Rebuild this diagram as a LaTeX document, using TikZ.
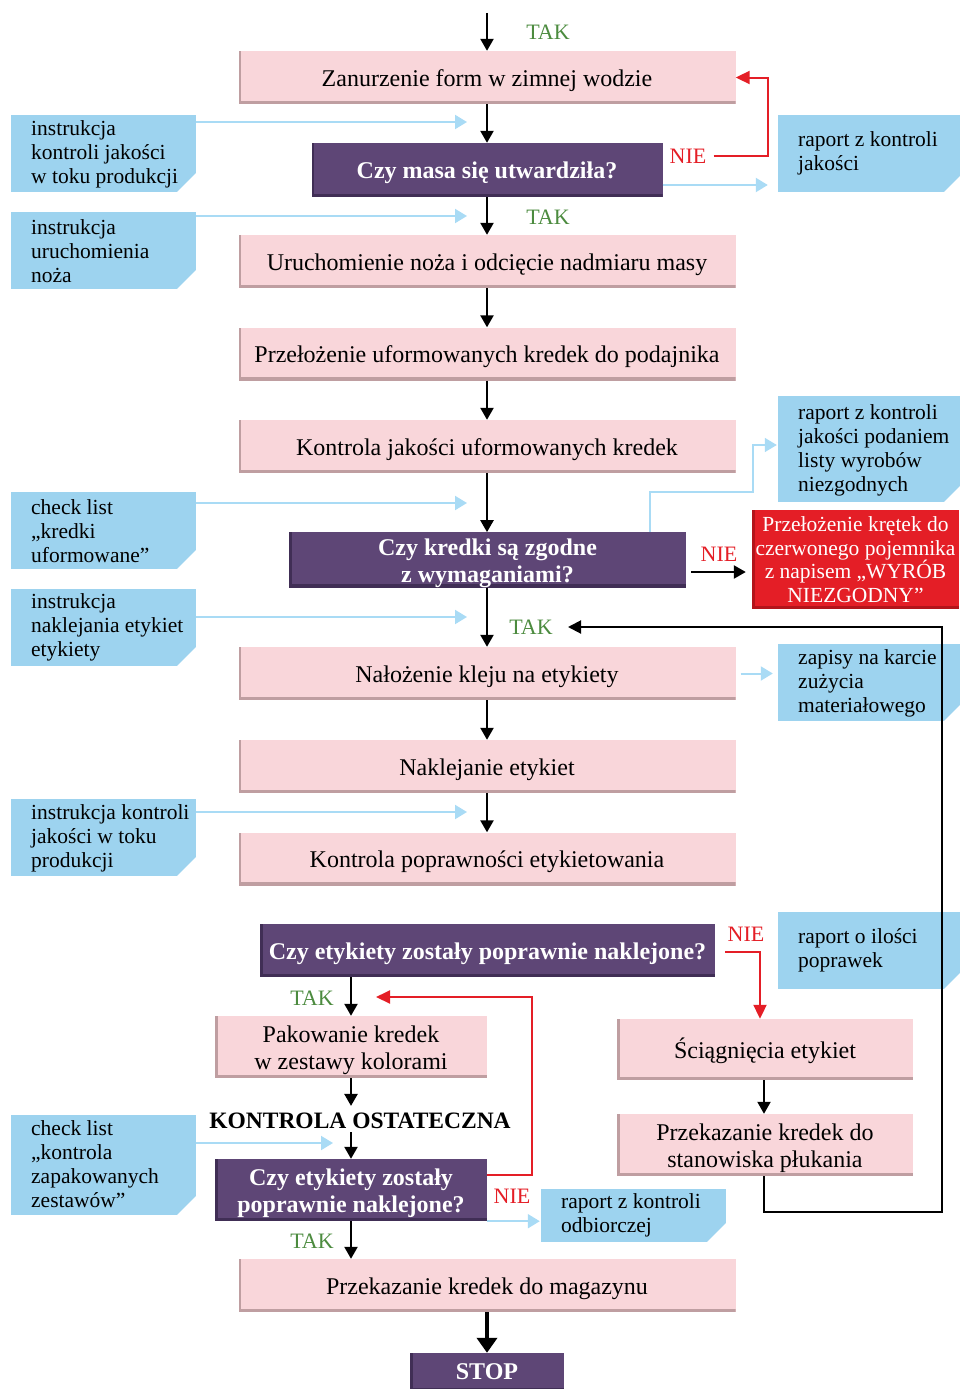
\documentclass[tikz,border=0pt]{standalone}
\usepackage{fontspec}
\setmainfont{Liberation Serif}
\usetikzlibrary{arrows.meta,calc}
\definecolor{pinkfill}{HTML}{F9D6DA}
\definecolor{pinkedge}{HTML}{BF9EA1}
\definecolor{purplefill}{HTML}{5E4676}
\definecolor{purpleedge}{HTML}{402E55}
\definecolor{docblue}{HTML}{9DD3EF}
\definecolor{linkblue}{HTML}{A9DBF5}
\definecolor{takgreen}{HTML}{4C8B3F}
\definecolor{nieRed}{HTML}{E41E26}
\definecolor{rededge}{HTML}{B3141A}

% strut that lowers the first line of a box text a little
\newcommand{\topstrut}{\rule{0pt}{23pt}}

\tikzset{
  bevel/.style={path picture={
    \fill[#1] (path picture bounding box.south west) rectangle ([yshift=3.5pt]path picture bounding box.south east);
    \fill[#1] (path picture bounding box.south west) rectangle ([xshift=2.5pt]path picture bounding box.north west);}},
  proc/.style={fill=pinkfill, bevel=pinkedge, inner sep=0pt, minimum height=53pt,
    font=\fontsize{24}{27}\selectfont, align=center, text=black},
  ask/.style={fill=purplefill, bevel=purpleedge, inner sep=0pt, minimum height=54pt,
    font=\bfseries\fontsize{24}{27}\selectfont, align=center, text=white},
  stopbox/.style={fill=purplefill, bevel=purpleedge, inner sep=0pt,
    font=\bfseries\fontsize{24}{27}\selectfont, text=white},
  reject/.style={fill=nieRed, bevel=rededge, inner sep=0pt,
    font=\fontsize{21.5}{23.7}\selectfont, align=center, text=white},
  doc/.style={fill=docblue, inner sep=0pt, minimum width=185pt, minimum height=77pt,
    path picture={\fill[white] (path picture bounding box.south east)
      -- ([yshift=19pt]path picture bounding box.south east)
      -- ([xshift=-19pt]path picture bounding box.south east) -- cycle;}},
  doctext/.style={anchor=west, inner sep=0pt, align=left, font=\fontsize{21.5}{24}\selectfont},
  flow/.style={line width=2.4pt, -{Triangle[length=12pt,width=13pt]}},
  bigflow/.style={line width=4pt, -{Triangle[length=15pt,width=20pt]}},
  ret/.style={line width=2pt, -{Triangle[length=13pt,width=13pt]}},
  info/.style={draw=linkblue, line width=2pt, -{Triangle[length=12pt,width=14pt]}},
  back/.style={draw=nieRed, line width=2pt, -{Triangle[length=14pt,width=13pt]}},
  tak/.style={text=takgreen, font=\fontsize{22}{24}\selectfont, inner sep=0pt},
  nie/.style={text=nieRed, font=\fontsize{22}{24}\selectfont, inner sep=0pt},
}

\begin{document}
\begin{tikzpicture}[x=1pt,y=-1pt]
\useasboundingbox (0,0) rectangle (959,1389);

% ---- main process column ----
\node[proc, minimum width=497pt] (zan) at (487,77.5) {\topstrut Zanurzenie form w zimnej wodzie};
\node[ask, minimum width=351pt] (dec1) at (487,170) {\topstrut Czy masa się utwardziła?};
\node[proc, minimum width=497pt] (noz) at (487,261.5) {\topstrut Uruchomienie noża i odcięcie nadmiaru masy};
\node[proc, minimum width=497pt] (pod) at (487,354) {\topstrut Przełożenie uformowanych kredek do podajnika};
\node[proc, minimum width=497pt] (kjk) at (487,446.5) {\topstrut Kontrola jakości uformowanych kredek};
\node[ask, minimum width=397pt] (dec2) at (487.5,560) {\topstrut Czy kredki są zgodne\\z wymaganiami?};
\node[proc, minimum width=497pt] (klej) at (487,673.5) {\topstrut Nałożenie kleju na etykiety};
\node[proc, minimum width=497pt] (nakl) at (487,766.5) {\topstrut Naklejanie etykiet};
\node[proc, minimum width=497pt] (pop) at (487,859) {\topstrut Kontrola poprawności etykietowania};
\node[ask, minimum width=455pt, minimum height=53pt] (dec3) at (487.5,950.5) {\topstrut Czy etykiety zostały poprawnie naklejone?};
\node[proc, minimum width=272pt, minimum height=62pt] (pak) at (351,1047) {\topstrut Pakowanie kredek\\w zestawy kolorami};
\node[font=\bfseries\fontsize{23.5}{26}\selectfont, inner sep=0pt] (ko) at (360,1121) {KONTROLA OSTATECZNA};
\node[ask, minimum width=272pt, minimum height=62pt] (dec4) at (351,1190) {\topstrut Czy etykiety zostały\\poprawnie naklejone?};
\node[proc, minimum width=497pt] (mag) at (487,1285.5) {\topstrut Przekazanie kredek do magazynu};
\node[stopbox, minimum width=154pt, minimum height=38pt] (stop) at (487,1372) {STOP};

% ---- correction branch ----
\node[proc, minimum width=296pt, minimum height=61pt] (sci) at (765,1049.5) {\topstrut Ściągnięcia etykiet};
\node[proc, minimum width=296pt, minimum height=62pt] (plu) at (765,1145) {\topstrut Przekazanie kredek do\\stanowiska płukania};
\node[reject, minimum width=207pt, minimum height=99pt] (rej) at (855.5,559.5)
  {Przełożenie krętek do\\czerwonego pojemnika\\z napisem „WYRÓB\\NIEZGODNY”};

% ---- documents on the left ----
\node[doc] (L1) at (103.5,153.5) {};
\node[doctext] (L1t) at (31,154) {instrukcja\\kontroli jakości\\w toku produkcji};
\node[doc] (L2) at (103.5,250.5) {};
\node[doctext] (L2t) at (31,251) {instrukcja\\uruchomienia\\noża};
\node[doc] (L3) at (103.5,530.5) {};
\node[doctext] (L3t) at (31,531) {check list\\„kredki\\uformowane”};
\node[doc] (L4) at (103.5,627.5) {};
\node[doctext] (L4t) at (31,627.5) {instrukcja\\naklejania etykiet\\etykiety};
\node[doc] (L5) at (103.5,837.5) {};
\node[doctext] (L5t) at (31,838) {instrukcja kontroli\\jakości w toku\\produkcji};
\node[doc, minimum height=100pt] (L6) at (103.5,1165) {};
\node[doctext] (L6t) at (31,1164.5) {check list\\„kontrola\\zapakowanych\\zestawów”};

% ---- documents on the right ----
\node[doc] (R1) at (870.5,153.5) {};
\node[doctext] (R1t) at (798,153) {raport z kontroli\\jakości};
\node[doc, minimum height=106pt] (R2) at (870.5,449) {};
\node[doctext] (R2t) at (798,450) {raport z kontroli\\jakości podaniem\\listy wyrobów\\niezgodnych};
\node[doc] (R3) at (870.5,682.5) {};
\node[doctext] (R3t) at (798,683) {zapisy na karcie\\zużycia\\materiałowego};
\node[doc] (R4) at (870.5,950.5) {};
\node[doctext] (R4t) at (798,950) {raport o ilości\\poprawek};
\node[doc, minimum height=53pt] (R5) at (633.5,1215.5) {};
\node[doctext] (R5t) at (561,1215) {raport z kontroli\\odbiorczej};

% ---- decision labels ----
\node[tak] (tak1) at (548,32) {TAK};
\node[tak] (tak2) at (548,217) {TAK};
\node[tak] (tak3) at (531,627) {TAK};
\node[tak] (tak4) at (312,998) {TAK};
\node[tak] (tak5) at (312,1241) {TAK};
\node[nie] (nie1) at (688,156) {NIE};
\node[nie] (nie2) at (719,554) {NIE};
\node[nie] (nie3) at (746,934) {NIE};
\node[nie] (nie4) at (512,1196) {NIE};

% ---- main flow arrows ----
\coordinate (start) at (487,13);
\draw[flow] (start) -- (zan.north);
\draw[flow] (zan.south) -- (dec1.north);
\draw[flow] (dec1.south) -- (noz.north);
\draw[flow] (noz.south) -- (pod.north);
\draw[flow] (pod.south) -- (kjk.north);
\draw[flow] (kjk.south) -- (kjk.south |- dec2.north);
\draw[flow] (kjk.south |- dec2.south) -- (klej.north);
\draw[flow] (klej.south) -- (nakl.north);
\draw[flow] (nakl.south) -- (pop.north);
\draw[flow] (pak.north |- dec3.south) -- (pak.north);
\draw[flow, shorten >=7pt] (pak.south) -- (pak.south |- ko.north);
\draw[flow, shorten <=3pt] (dec4.north |- ko.south) -- (dec4.north);
\draw[flow] (dec4.south) -- (dec4.south |- mag.north);
\draw[bigflow] (mag.south) -- (stop.north);
\draw[flow] ([xshift=5pt,yshift=-12pt]dec2.east) -- ([xshift=-6pt,yshift=-12pt]dec2.east -| rej.west);
\draw[flow, line width=2pt] ([xshift=-1pt]sci.south) -- ([xshift=-1pt]plu.north);

% ---- return of rinsed crayons ----
\coordinate (retA) at (942,1212);
\coordinate (retB) at (568,627);
\draw[ret] ([xshift=-1pt]plu.south) |- (retA) |- (retB);

% ---- NIE loops ----
\draw[back] ([xshift=7pt]nie1.east) -| ($(zan.east)+(32,0)$) -- (zan.east);
\coordinate (n3) at (725,952);
\draw[back] (n3) -| ([xshift=-5pt]sci.north);
\coordinate (n4) at (532,997);
\coordinate (n4tip) at (376,997);
\draw[back] ([yshift=15pt]dec4.east) -| (n4) -- (n4tip);

% ---- document links ----
\coordinate (i1) at (467,122);
\coordinate (i2) at (467,216);
\coordinate (i3) at (467,503);
\coordinate (i4) at (467,617);
\coordinate (i5) at (467,812);
\coordinate (i6) at (333,1143);
\draw[info] (L1.east |- i1) -- (i1);
\draw[info] (L2.east |- i2) -- (i2);
\draw[info] (L3.east |- i3) -- (i3);
\draw[info] (L4.east |- i4) -- (i4);
\draw[info] (L5.east |- i5) -- (i5);
\draw[info] (L6.east |- i6) -- (i6);
\coordinate (o1) at (662,185);
\draw[info] (dec1.east |- o1) -- ([xshift=-10pt]R1.west |- o1);
\coordinate (o2a) at (650,492);
\coordinate (o2b) at (753,445);
\draw[info, line width=1.6pt] (o2a |- dec2.north) -- (o2a) -| (o2b) -- ([xshift=-1pt]R2.west |- o2b);
\draw[info] ([xshift=5pt]klej.east) -- ([xshift=-5pt]R3.west |- klej.east);
\draw[info] (dec4.south east) -- ([xshift=-1pt]R5.west |- dec4.south east);
\end{tikzpicture}
\end{document}
